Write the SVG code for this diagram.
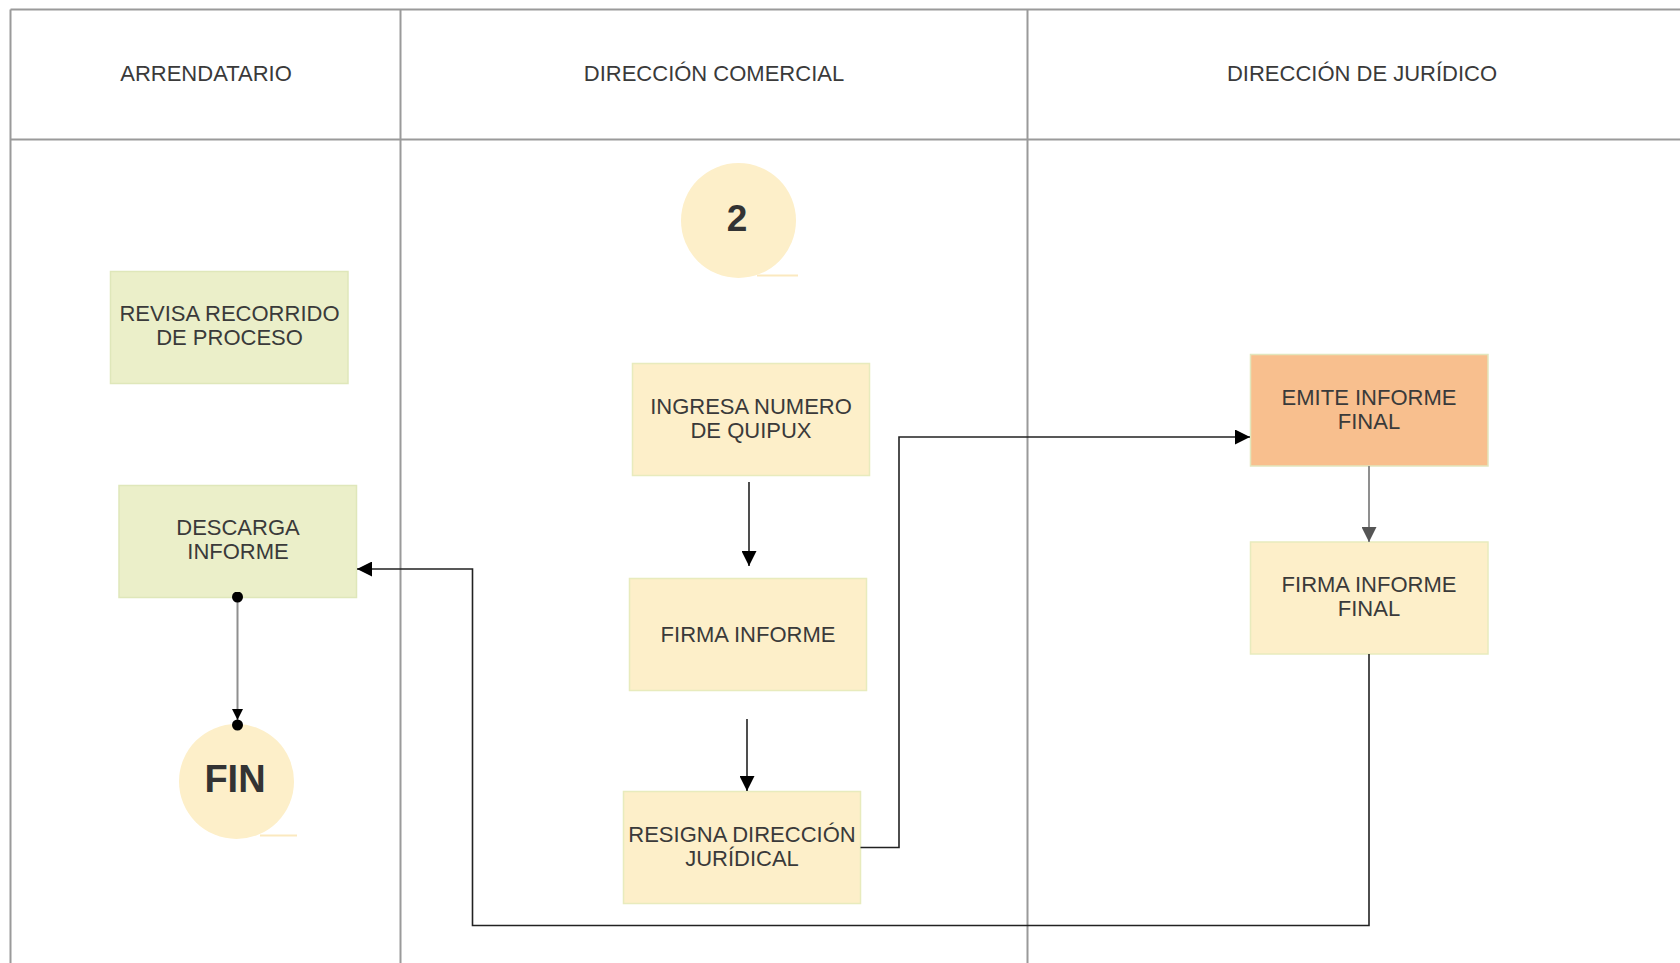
<svg xmlns="http://www.w3.org/2000/svg" width="1680" height="963" viewBox="0 0 1680 963">
  <defs>
    <style>
      .lane { stroke: #9a9a9a; stroke-width: 2; fill: none; }
      .hdr { font-family: "Liberation Sans", Arial, sans-serif; font-size: 22px; fill: #3a3a3a; text-anchor: middle; }
      .lbl { font-family: "Liberation Sans", Arial, sans-serif; font-size: 22px; fill: #3a3a3a; text-anchor: middle; }
      .big { font-family: "Liberation Sans", Arial, sans-serif; font-weight: bold; fill: #333333; text-anchor: middle; }
      .green { fill: #ebefc9; stroke: #dfe7ba; stroke-width: 1.5; }
      .yellow { fill: #fdefc9; stroke: #e8ebbd; stroke-width: 1.5; }
      .orange { fill: #f8bf8e; stroke: #e2e6bd; stroke-width: 1.5; }
      .circ { fill: #fdefc9; }
      .tail { stroke: #fbe9bf; stroke-width: 2; }
      .edge { fill: none; stroke: #222222; stroke-width: 1.6; }
      .edge-grey { fill: none; stroke: #8f8f8f; stroke-width: 2; }
    </style>
    <marker id="arrow" viewBox="0 0 10 10" refX="10" refY="5" markerWidth="11" markerHeight="11" markerUnits="userSpaceOnUse" orient="auto">
      <path d="M0,0 L10,5 L0,10 z" fill="#000000"/>
    </marker>
    <marker id="arrow-lg" viewBox="0 0 10 10" refX="10" refY="5" markerWidth="15" markerHeight="15" markerUnits="userSpaceOnUse" orient="auto">
      <path d="M0,0 L10,5 L0,10 z" fill="#000000"/>
    </marker>
    <marker id="arrow-grey" viewBox="0 0 10 10" refX="10" refY="5" markerWidth="15" markerHeight="15" markerUnits="userSpaceOnUse" orient="auto">
      <path d="M0,0 L10,5 L0,10 z" fill="#555555"/>
    </marker>
    <marker id="dot" viewBox="0 0 10 10" refX="5" refY="5" markerWidth="11" markerHeight="11" markerUnits="userSpaceOnUse">
      <circle cx="5" cy="5" r="5" fill="#000000"/>
    </marker>
  </defs>

  <rect width="1680" height="963" fill="#ffffff"/>

  <!-- swimlane frame -->
  <g id="lanes">
    <line class="lane" x1="10.5" y1="9.5" x2="1680" y2="9.5"/>
    <line class="lane" x1="10.5" y1="139.5" x2="1680" y2="139.5"/>
    <line class="lane" x1="10.5" y1="9.5" x2="10.5" y2="963"/>
    <line class="lane" x1="400.5" y1="9.5" x2="400.5" y2="963"/>
    <line class="lane" x1="1027.5" y1="9.5" x2="1027.5" y2="963"/>
    <text class="hdr" x="206" y="81">ARRENDATARIO</text>
    <text class="hdr" x="714" y="81">DIRECCIÓN COMERCIAL</text>
    <text class="hdr" x="1362" y="81">DIRECCIÓN DE JURÍDICO</text>
  </g>

  <!-- start marker -->
  <g id="node-start">
    <line class="tail" x1="757" y1="275.5" x2="798" y2="275.5"/>
    <circle class="circ" cx="738.5" cy="220.5" r="57.5"/>
    <text class="big" x="737" y="231" font-size="37">2</text>
  </g>

  <g id="node-revisa">
    <rect class="green" x="110.5" y="271.5" width="237.5" height="112"/>
    <text class="lbl" x="229.5" y="321">REVISA RECORRIDO</text>
    <text class="lbl" x="229.5" y="344.5">DE PROCESO</text>
  </g>

  <g id="node-descarga">
    <rect class="green" x="119" y="485.5" width="237.5" height="112"/>
    <text class="lbl" x="238" y="535">DESCARGA</text>
    <text class="lbl" x="238" y="558.5">INFORME</text>
  </g>

  <g id="node-fin">
    <line class="tail" x1="260" y1="835.5" x2="297" y2="835.5"/>
    <circle class="circ" cx="236.5" cy="781.5" r="57.5"/>
    <text class="big" x="235" y="792" font-size="38">FIN</text>
  </g>

  <g id="node-ingresa">
    <rect class="yellow" x="632.5" y="363.5" width="237" height="112"/>
    <text class="lbl" x="751" y="414">INGRESA NUMERO</text>
    <text class="lbl" x="751" y="437.5">DE QUIPUX</text>
  </g>

  <g id="node-firma">
    <rect class="yellow" x="629.5" y="578.5" width="237" height="112"/>
    <text class="lbl" x="748" y="641.5">FIRMA INFORME</text>
  </g>

  <g id="node-resigna">
    <rect class="yellow" x="623.5" y="791.5" width="237" height="112"/>
    <text class="lbl" x="742" y="842">RESIGNA DIRECCIÓN</text>
    <text class="lbl" x="742" y="865.5">JURÍDICAL</text>
  </g>

  <g id="node-emite">
    <rect class="orange" x="1250.5" y="354.5" width="237.5" height="111.5"/>
    <text class="lbl" x="1369" y="405">EMITE INFORME</text>
    <text class="lbl" x="1369" y="428.5">FINAL</text>
  </g>

  <g id="node-firma-final">
    <rect class="yellow" x="1250.5" y="542" width="237.5" height="112" stroke="#fdefc9"/>
    <text class="lbl" x="1369" y="592">FIRMA INFORME</text>
    <text class="lbl" x="1369" y="615.5">FINAL</text>
  </g>

  <!-- connectors, drawn last so end dots sit on top of the shapes -->
  <g id="connectors">
    <line class="edge" x1="749" y1="482" x2="749" y2="566" marker-end="url(#arrow-lg)"/>
    <line class="edge" x1="747" y1="719" x2="747" y2="791" marker-end="url(#arrow-lg)"/>
    <polyline class="edge" points="860.5,847.5 899,847.5 899,437 1250,437" marker-end="url(#arrow-lg)"/>
    <line class="edge-grey" x1="1369" y1="466" x2="1369" y2="542" marker-end="url(#arrow-grey)"/>
    <polyline class="edge" points="1369,654 1369,925.5 472.5,925.5 472.5,569 357,569" marker-end="url(#arrow-lg)"/>
    <line class="edge-grey" x1="237.5" y1="597" x2="237.5" y2="720" stroke="#666666" marker-start="url(#dot)" marker-end="url(#arrow)"/>
    <circle cx="237.5" cy="725" r="5.5" fill="#000000"/>
  </g>
</svg>
